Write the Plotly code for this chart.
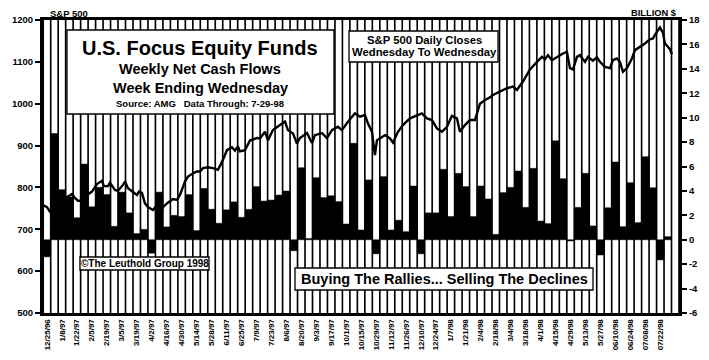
import plotly.graph_objects as go

# ---------------- data ----------------
tick_labels = ["12/25/96", "1/8/97", "1/22/97", "2/5/97", "2/19/97", "3/5/97", "3/19/97",
               "4/2/97", "4/16/97", "4/30/97", "5/14/97", "5/28/97", "6/11/97", "6/25/97",
               "7/9/97", "7/23/97", "8/6/97", "8/20/97", "9/3/97", "9/17/97", "10/1/97",
               "10/15/97", "10/29/97", "11/12/97", "11/26/97", "12/10/97", "12/24/97",
               "1/7/98", "1/21/98", "2/4/98", "2/18/98", "3/4/98", "3/18/98", "4/1/98",
               "4/15/98", "4/29/98", "5/13/98", "5/27/98", "06/10/98", "06/24/98",
               "07/08/98", "07/22/98"]

# weekly net cash flows, billion $ (week ending Wednesday, 12/25/96 .. 7/29/98)
flows = [-1.4, 8.7, 4.1, 3.5, 1.8, 6.2, 2.7, 4.3, 3.7, 1.1,
         3.9, 2.2, 0.5, 0.85, -1.1, 3.9, 1.05, 2.0, 1.9, 3.7,
         0.75, 4.2, 2.5, 1.35, 2.45, 3.1, 1.84, 2.49, 4.35, 3.17,
         3.25, 3.66, 3.99, -0.9, 5.9, 0.1, 5.08, 3.45, 3.6, 3.12,
         1.29, 7.9, 0.8, 4.9, -1.15, 5.17, 0.8, 1.6, 0.66, 4.4,
         -1.15, 2.2, 2.2, 5.77, 1.9, 5.44, 4.35, 1.9, 4.4, 3.34,
         0.44, 3.86, 4.29, 5.63, 2.65, 5.85, 1.53, 1.32, 8.1, 5.0,
         -0.1, 2.65, 5.44, 1.13, -1.25, 2.62, 6.37, 1.07, 4.67, 1.4,
         6.8, 4.26, -1.65, 0.25]

# S&P 500 closes, time in weeks since 12/25/96
sp_weeks = [-0.53, 0.0, 0.40, 0.80, 1.47, 2.01, 2.67, 3.34, 3.74, 4.14,
            4.68, 5.35, 6.02, 6.68, 7.35, 7.62, 8.16, 8.42, 9.09, 9.49,
            10.16, 10.43, 10.83, 11.50, 12.03, 12.30, 12.70, 13.10, 13.50, 14.17,
            14.71, 15.11, 15.51, 16.04, 16.44, 16.84, 17.38, 17.78, 18.45, 18.85,
            19.39, 20.05, 20.45, 20.86, 21.52, 22.19, 22.86, 23.40, 24.06, 24.73,
            25.13, 25.53,
            25.80, 26.47, 27.14, 28.07, 28.48, 29.14, 29.55, 30.21, 31.15, 31.82,
            32.22, 32.89, 33.42, 33.82, 34.76, 35.43, 35.83, 36.76, 37.43, 38.10,
            38.90, 39.44, 40.24, 41.18, 41.84, 42.51, 42.91, 43.45, 43.85, 44.12,
            44.52, 45.19, 45.86, 46.26, 46.93, 47.59, 48.53, 49.47, 50.13, 50.80,
            51.47, 52.14, 52.81, 53.48, 54.14, 54.81, 55.21, 55.88, 56.55, 57.22,
            57.89, 58.56, 59.22, 59.63, 60.56, 61.50, 62.30, 62.83, 63.64, 64.57,
            65.51, 66.18, 66.58, 66.98, 67.51, 68.18, 68.98, 69.52, 69.92, 70.32,
            70.86, 71.26, 71.93, 72.33, 72.99, 73.53, 73.93, 74.60, 75.27, 75.67,
            76.20, 76.60, 77.01, 77.54, 78.21, 78.61, 79.28, 79.95, 80.61, 81.02,
            81.55, 81.95, 82.35, 82.62, 83.02, 83.29, 83.56]
sp_close = [758, 753, 742, 741, 775, 772, 777, 784, 775, 768,
            768, 782, 790, 808, 816, 803, 803, 811, 794, 792,
            806, 814, 798, 790, 782, 790, 787, 762, 753, 746,
            758, 738, 753, 762, 766, 772, 770, 782, 814, 826,
            832, 838, 838, 846, 848, 846, 842, 861, 889, 896,
            888, 898,
            886, 889, 912, 918, 917, 933, 913, 937, 949, 957,
            937, 929, 905, 918, 930, 906, 925, 930, 918, 937,
            945, 937, 957, 977, 969, 973, 953, 933, 877, 913,
            917, 925, 917, 907, 933, 949, 965, 973, 977, 965,
            961, 941, 933, 945, 971, 965, 933, 949, 961, 961,
            1000, 1009, 1015, 1021, 1029, 1037, 1041, 1033, 1053, 1082,
            1100, 1112, 1106, 1116, 1104, 1112, 1120, 1124, 1085, 1082,
            1112, 1116, 1100, 1112, 1103, 1111, 1100, 1088, 1085, 1104,
            1108, 1100, 1076, 1085, 1108, 1128, 1136, 1144, 1154, 1156,
            1172, 1182, 1170, 1144, 1136, 1130, 1118]

left_ticks = [500, 600, 700, 800, 900, 1000, 1100, 1200]
right_ticks = [-6, -4, -2, 0, 2, 4, 6, 8, 10, 12, 14, 16, 18]

# ---------------- layout helpers ----------------
W, H = 709, 360
PL, PR, PT, PB = 43, 679, 20, 313  # plot area in pixels


def px(x):
    return (x - PL) / (PR - PL)


def py(y):
    return (PB - y) / (PB - PT)


FONT = "Liberation Sans"
n = len(flows)
weeks = list(range(n))
columns = list(range(n + 1))

fig = go.Figure()
# white weekly columns (background stripes)
fig.add_trace(go.Bar(x=columns, y=[right_ticks[-1] - right_ticks[0]] * len(columns),
                     base=[right_ticks[0]] * len(columns), width=0.78,
                     marker=dict(color="white", line=dict(width=0)),
                     hoverinfo="skip", yaxis="y"))
# net cash flows
fig.add_trace(go.Bar(x=weeks, y=flows, width=1.0,
                     marker=dict(color="black", line=dict(color="black", width=0.5)),
                     yaxis="y"))
# S&P 500 line
fig.add_trace(go.Scatter(x=sp_weeks, y=sp_close, mode="lines",
                         line=dict(color="black", width=2.4), yaxis="y2"))

tickfont = dict(family=FONT, size=9.5, color="black", weight="bold")

fig.update_layout(
    width=W, height=H,
    margin=dict(l=PL, r=W - PR, t=PT, b=H - PB, autoexpand=False),
    paper_bgcolor="white", plot_bgcolor="black",
    barmode="overlay", showlegend=False,
    xaxis=dict(range=[-0.53, 84.5], tickvals=weeks[::2], ticktext=tick_labels,
               tickangle=-90, tickfont=dict(family=FONT, size=8, color="black", weight="bold"),
               showline=True, linewidth=3, linecolor="black", mirror=True,
               showgrid=False, zeroline=False, ticks="", automargin=False),
    yaxis=dict(side="right", range=[right_ticks[0], right_ticks[-1]],
               tickvals=right_ticks, ticktext=[str(v) for v in right_ticks],
               ticks="outside", ticklen=5, tickwidth=2, tickcolor="black",
               showline=True, linewidth=3, linecolor="black",
               showgrid=False, zeroline=False, tickfont=tickfont, automargin=False),
    yaxis2=dict(overlaying="y", side="left", range=[left_ticks[0], left_ticks[-1]],
                tickvals=left_ticks, ticktext=[str(v) for v in left_ticks],
                ticks="outside", ticklen=5, tickwidth=2, tickcolor="black",
                showline=True, linewidth=3, linecolor="black",
                showgrid=False, zeroline=False, tickfont=tickfont, automargin=False),
)

# boxes
boxes = [(67, 30, 334, 114), (349, 31, 498, 62), (80, 257, 209, 270), (295, 268, 593, 290)]
for (x0, y0, x1, y1) in boxes:
    fig.add_shape(type="rect", xref="paper", yref="paper",
                  x0=px(x0), x1=px(x1), y0=py(y1), y1=py(y0),
                  fillcolor="white", line=dict(color="black", width=1.3), layer="above")

texts = [
    ("U.S. Focus Equity Funds", 200, 48, 20, "center"),
    ("Weekly Net Cash Flows", 200, 69, 14.5, "center"),
    ("Week Ending Wednesday", 200, 88, 14.5, "center"),
    ("Source: AMG   Data Through: 7-29-98", 200, 103, 9.5, "center"),
    ("S&P 500 Daily Closes", 424, 39.5, 11.3, "center"),
    ("Wednesday To Wednesday", 424, 52.5, 11.3, "center"),
    ("©The Leuthold Group 1998", 144.5, 263.5, 10, "center"),
    ("Buying The Rallies... Selling The Declines", 444, 279, 14.5, "center"),
    ("S&P 500", 48, 13, 9.5, "left"),
    ("BILLION $", 629, 13, 9.3, "left"),
]
for (t, x, y, s, anc) in texts:
    fig.add_annotation(text=t, xref="paper", yref="paper", x=px(x), y=py(y),
                       xanchor=anc, yanchor="middle", showarrow=False,
                       font=dict(family=FONT, size=s, color="black", weight="bold"))

fig.write_html("out.html", config={"displayModeBar": False},
               post_script="document.body.style.margin='0px';")
